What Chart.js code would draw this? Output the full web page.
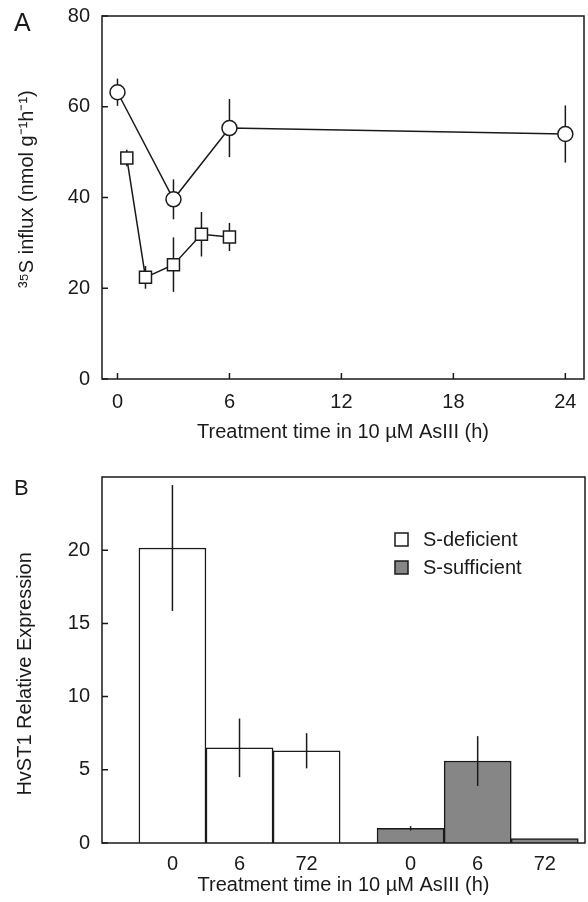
<!DOCTYPE html>
<html>
<head>
<meta charset="utf-8">
<script src="https://cdn.jsdelivr.net/npm/chart.js@4.4.1/dist/chart.umd.min.js"></script>
<style>
  html, body { margin: 0; padding: 0; background: #fff; }
  #wrap { position: relative; width: 588px; height: 902px; }
  canvas { position: absolute; left: 0; }
  #chartA { top: 0; }
  #chartB { top: 450px; }
  .tag { position: absolute; font-family: 'Liberation Sans', Arial, sans-serif; color: #1a1a1a; }
</style>
</head>
<body>
<div id="wrap">
  <canvas id="chartA" width="588" height="450"></canvas>
  <canvas id="chartB" width="588" height="452"></canvas>
  <div class="tag" style="left:14px; top:8px; font-size:25px;">A</div>
  <div class="tag" style="left:14px; top:475px; font-size:22px;">B</div>
</div>
<script>
'use strict';

// Panel A - 35S influx over time
const circleHours = [0, 3, 6, 24];
const circleInflux = [63.2, 39.6, 55.3, 54.0];
const circleErr = [3.0, 4.4, 6.4, 6.3];

const squareHours = [0.5, 1.5, 3, 4.5, 6];
const squareInflux = [48.7, 22.4, 25.2, 31.9, 31.3];
const squareErr = [1.8, 2.5, 6.0, 4.9, 3.1];

const hourTicks = [0, 6, 12, 18, 24];
const influxTicks = [0, 20, 40, 60, 80];

// Panel B - HvST1 relative expression
const timeLabels = ['0', '6', '72'];
const deficientExpr = [20.15, 6.5, 6.3];
const deficientErr = [4.3, 2.0, 1.2];
const sufficientExpr = [1.0, 5.6, 0.3];
const sufficientErr = [0.15, 1.7, 0];
const exprTicks = [0, 5, 10, 15, 20];

const FONT = "'Liberation Sans', Arial, sans-serif";
const INK = '#1a1a1a';
Chart.defaults.font.family = FONT;
Chart.defaults.color = INK;

// fixed axis size, and no extra room for overhanging tick labels
const fitTo = (prop, size) => s => {
    s[prop] = size;
    s.paddingTop = s.paddingBottom = s.paddingLeft = s.paddingRight = 0;
};

// box round the plot area + inward tick marks
const framePlugin = {
    id: 'frame',
    afterDraw(chart, args, opts) {
        const {ctx, chartArea: a} = chart;
        ctx.save();
        ctx.strokeStyle = INK;
        ctx.lineWidth = 1.5;
        ctx.strokeRect(a.left, a.top, a.right - a.left, a.bottom - a.top);
        ctx.beginPath();
        const y = chart.scales.y;
        y.ticks.forEach(t => {
            const py = y.getPixelForValue(t.value);
            ctx.moveTo(a.left, py);
            ctx.lineTo(a.left + 6, py);
        });
        if (opts.xTicks) {
            const x = chart.scales.x;
            x.ticks.forEach(t => {
                const px = x.getPixelForValue(t.value);
                ctx.moveTo(px, a.bottom);
                ctx.lineTo(px, a.bottom - 6);
            });
        }
        ctx.stroke();
        ctx.restore();
    }
};

function drawErrors(chart) {
    const {ctx} = chart;
    const yScale = chart.scales.y;
    ctx.save();
    ctx.strokeStyle = INK;
    ctx.lineWidth = 1.5;
    chart.data.datasets.forEach((ds, di) => {
        if (!ds.errors) return;
        const meta = chart.getDatasetMeta(di);
        meta.data.forEach((el, i) => {
            const err = ds.errors[i];
            if (!err) return;
            const v = ds.data[i].y;
            ctx.beginPath();
            ctx.moveTo(el.x, yScale.getPixelForValue(v + err));
            ctx.lineTo(el.x, yScale.getPixelForValue(v - err));
            ctx.stroke();
        });
    });
    ctx.restore();
}

const errorsBehind = { id: 'errorsBehind', beforeDatasetsDraw: drawErrors };
const errorsFront = { id: 'errorsFront', afterDatasetsDraw: drawErrors };

const legendPlugin = {
    id: 'boxLegend',
    afterDraw(chart) {
        const {ctx, chartArea: a} = chart;
        ctx.save();
        ctx.font = '20px ' + FONT;
        ctx.textBaseline = 'middle';
        chart.data.datasets.forEach((ds, i) => {
            const bx = a.right - 190;
            const by = a.top + 56 + i * 28;
            ctx.fillStyle = ds.backgroundColor;
            ctx.fillRect(bx, by, 13, 13);
            ctx.strokeStyle = INK;
            ctx.lineWidth = 1.5;
            ctx.strokeRect(bx, by, 13, 13);
            ctx.fillStyle = INK;
            ctx.fillText(ds.label, bx + 28, by + 7);
        });
        ctx.restore();
    }
};

const toPoints = (xs, ys) => xs.map((x, i) => ({x: x, y: ys[i]}));

new Chart(document.getElementById('chartA'), {
    type: 'line',
    data: {
        datasets: [
            {
                data: toPoints(circleHours, circleInflux),
                errors: circleErr,
                borderColor: INK,
                borderWidth: 1.5,
                pointStyle: 'circle',
                pointRadius: 7.5,
                pointBorderWidth: 1.5,
                pointBackgroundColor: '#fff',
                pointBorderColor: INK,
                tension: 0
            },
            {
                data: toPoints(squareHours, squareInflux),
                errors: squareErr,
                borderColor: INK,
                borderWidth: 1.5,
                pointStyle: 'rect',
                pointRadius: 8.5,
                pointBorderWidth: 1.5,
                pointBackgroundColor: '#fff',
                pointBorderColor: INK,
                tension: 0
            }
        ]
    },
    options: {
        responsive: false,
        animation: false,
        layout: { autoPadding: false, padding: { top: 16, right: 4, left: 0, bottom: 0 } },
        plugins: {
            legend: { display: false },
            tooltip: { enabled: false },
            frame: { xTicks: true }
        },
        scales: {
            x: {
                type: 'linear',
                min: -0.83,
                max: 25,
                afterBuildTicks: s => { s.ticks = hourTicks.map(v => ({value: v})); },
                afterFit: fitTo('height', 71),
                grid: { display: false, drawTicks: false },
                border: { display: false },
                ticks: { font: { size: 20 }, padding: 11, maxRotation: 0, autoSkip: false },
                title: {
                    display: true,
                    text: 'Treatment time in 10 µM AsIII (h)',
                    font: { size: 20 },
                    padding: { top: 0, bottom: 6 }
                }
            },
            y: {
                min: 0,
                max: 80,
                afterBuildTicks: s => { s.ticks = influxTicks.map(v => ({value: v})); },
                afterFit: fitTo('width', 102),
                grid: { display: false, drawTicks: false },
                border: { display: false },
                ticks: { font: { size: 20 }, padding: 12 },
                title: {
                    display: true,
                    // leading spaces nudge the rotated title up a little
                    text: '   ³⁵S influx (nmol g⁻¹h⁻¹)',
                    font: { size: 20 },
                    padding: { top: 15, bottom: 0 }
                }
            }
        }
    },
    plugins: [framePlugin, errorsBehind]
});

// bars of each treatment sit side by side; the two groups are split by a gap
const groupStart = [1.05, 4.6];
const barX = (g, i) => groupStart[g] + i;

new Chart(document.getElementById('chartB'), {
    type: 'bar',
    data: {
        datasets: [
            {
                label: 'S-deficient',
                data: deficientExpr.map((v, i) => ({x: barX(0, i), y: v})),
                errors: deficientErr,
                backgroundColor: '#ffffff',
                borderColor: INK,
                borderWidth: 1.5,
                grouped: false,
                barPercentage: 1,
                categoryPercentage: 1
            },
            {
                label: 'S-sufficient',
                data: sufficientExpr.map((v, i) => ({x: barX(1, i), y: v})),
                errors: sufficientErr,
                backgroundColor: '#868686',
                borderColor: INK,
                borderWidth: 1.5,
                grouped: false,
                barPercentage: 1,
                categoryPercentage: 1
            }
        ]
    },
    options: {
        responsive: false,
        animation: false,
        layout: { autoPadding: false, padding: { top: 27, right: 3, left: 0, bottom: 0 } },
        plugins: {
            legend: { display: false },
            tooltip: { enabled: false },
            frame: { xTicks: false }
        },
        scales: {
            x: {
                type: 'linear',
                offset: false,
                min: 0,
                max: 7.2,
                afterBuildTicks: s => {
                    const ticks = [];
                    groupStart.forEach((g, gi) => timeLabels.forEach((l, i) => ticks.push({value: barX(gi, i)})));
                    s.ticks = ticks;
                },
                afterFit: fitTo('height', 59),
                grid: { display: false, drawTicks: false, offset: false },
                border: { display: false },
                ticks: {
                    font: { size: 20 },
                    padding: 9,
                    maxRotation: 0,
                    autoSkip: false,
                    callback: (v, i) => timeLabels[i % timeLabels.length]
                },
                title: {
                    display: true,
                    text: 'Treatment time in 10 µM AsIII (h)',
                    font: { size: 20 },
                    padding: { top: 0, bottom: 5 }
                }
            },
            y: {
                min: 0,
                max: 25,
                afterBuildTicks: s => { s.ticks = exprTicks.map(v => ({value: v})); },
                afterFit: fitTo('width', 102),
                grid: { display: false, drawTicks: false },
                border: { display: false },
                ticks: { font: { size: 20 }, padding: 12 },
                title: {
                    display: true,
                    // trailing spaces nudge the rotated title down a little
                    text: 'HvST1 Relative Expression     ',
                    font: { size: 20 },
                    padding: { top: 13, bottom: 0 }
                }
            }
        }
    },
    plugins: [framePlugin, errorsFront, legendPlugin]
});
</script>
</body>
</html>
